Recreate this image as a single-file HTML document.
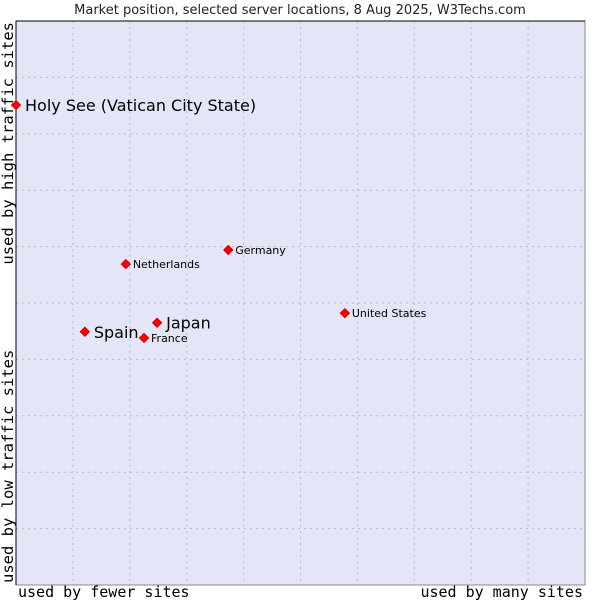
<!DOCTYPE html>
<html><head><meta charset="utf-8"><style>
body{margin:0;background:#fff;width:600px;height:600px;overflow:hidden}
svg{display:block}
.m{font-family:"DejaVu Sans Mono","Liberation Mono",monospace}
.s{font-family:"DejaVu Sans","Liberation Sans",sans-serif}
</style></head><body>
<svg id="c" width="600" height="600">
<text class="s" x="300" y="14" text-anchor="middle" font-size="13" fill="#222">Market position, selected server locations, 8 Aug 2025, W3Techs.com</text>
<rect x="16" y="21" width="569" height="564" fill="#e4e6f8" stroke="#888"/>
<g id="grid"></g>
<line x1="16" y1="21" x2="585" y2="21" stroke="#000"/>
<line x1="16" y1="21" x2="16" y2="585" stroke="#000"/>
<g id="pts"></g>
<text class="m" x="18" y="597" font-size="15" fill="#000">used by fewer sites</text>
<text class="m" x="583" y="597" font-size="15" text-anchor="end" fill="#000">used by many sites</text>
<text class="m" transform="translate(13,22) rotate(-90)" font-size="15.5" text-anchor="end" fill="#000">used by high traffic sites</text>
<text class="m" transform="translate(13,583) rotate(-90)" font-size="15.5" fill="#000">used by low traffic sites</text>
</svg>
<script>
const names=["Holy See (Vatican City State)","Germany","Netherlands","United States","Japan","Spain","France"];
const xVals=[0,37.3,19.3,57.8,24.8,12.1,22.5];
const yVals=[85.1,59.4,56.9,48.2,46.5,44.9,43.8];
const big=[true,false,false,false,true,true,false];
const X0=16,X1=585,Y0=585,Y1=21;
const sx=v=>X0+v/100*(X1-X0), sy=v=>Y0-v/100*(Y0-Y1);
const NS="http://www.w3.org/2000/svg";
const g=document.getElementById('grid');
for(let i=1;i<10;i++){
 const a=document.createElementNS(NS,'line');
 a.setAttribute('x1',sx(i*10));a.setAttribute('x2',sx(i*10));a.setAttribute('y1',Y1);a.setAttribute('y2',Y0);
 a.setAttribute('stroke','#bbb');a.setAttribute('stroke-dasharray','2,4');
 
 
 g.appendChild(a);
 const b=document.createElementNS(NS,'line');
 b.setAttribute('y1',sy(i*10));b.setAttribute('y2',sy(i*10));b.setAttribute('x1',X0);b.setAttribute('x2',X1);
 b.setAttribute('stroke','#bbb');b.setAttribute('stroke-dasharray','2,4');
 
 
 g.appendChild(b);
}
const p=document.getElementById('pts');
names.forEach((n,i)=>{
 const x=sx(xVals[i]),y=sy(yVals[i]);
 const d=document.createElementNS(NS,'path');
 d.setAttribute('d',`M${x-4.5},${y}L${x},${y-4.5}L${x+4.5},${y}L${x},${y+4.5}Z`);
 d.setAttribute('fill','#f00');d.setAttribute('stroke','#c00');
 
 
 p.appendChild(d);
 const t=document.createElementNS(NS,'text');
 t.setAttribute('class','s');
 t.setAttribute('x',x+(big[i]?9:7));t.setAttribute('y',y+(big[i]?6:4));
 t.setAttribute('font-size',big[i]?16:11);t.setAttribute('fill','#000');
 t.textContent=n;
 
 
 p.appendChild(t);
});
</script>
</body></html>
